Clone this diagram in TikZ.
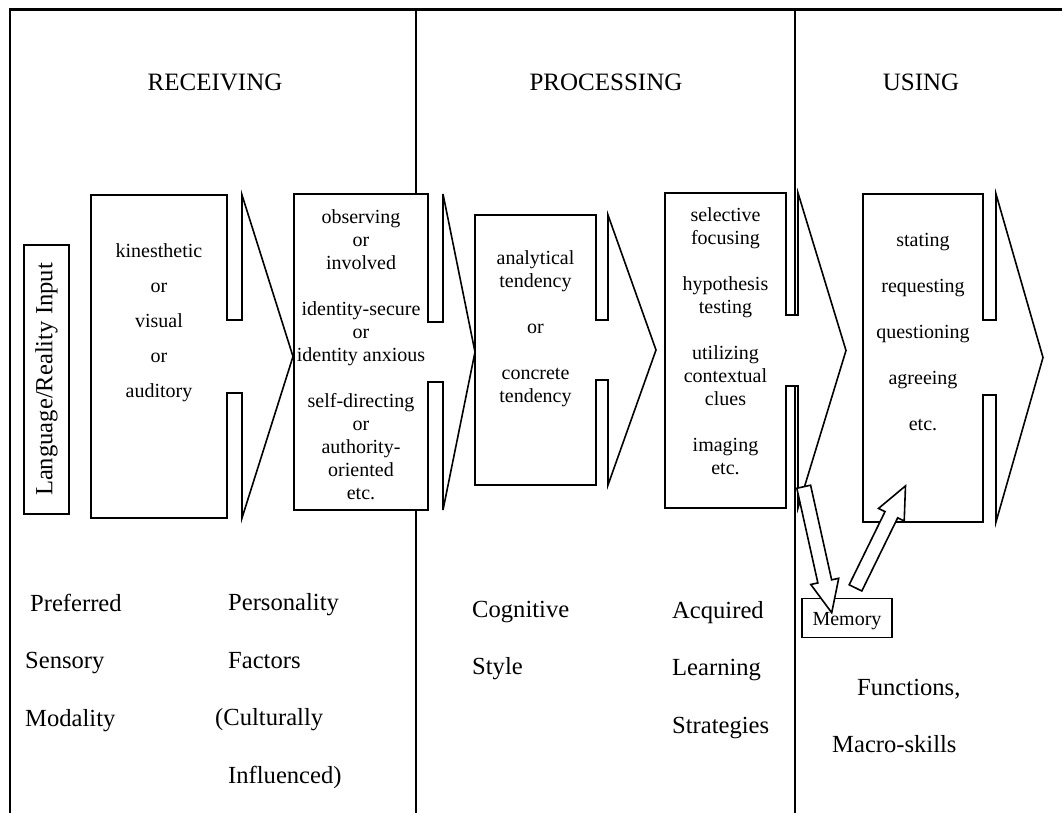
\documentclass[tikz,border=0pt]{standalone}
\usepackage{fontspec}
\setmainfont{Liberation Serif}
\usetikzlibrary{positioning,calc,shapes.arrows}
\tikzset{
  frameline/.style={line width=2.6pt},
  callout/.style={draw=black, fill=white, line width=1.6pt},
  boxtext/.style={align=center, inner sep=0pt, font=\fontsize{20}{23}\selectfont},
  heading/.style={anchor=base, inner sep=0pt, font=\fontsize{25}{29}\selectfont},
  factor/.style={align=left, anchor=north west, inner sep=0pt, font=\fontsize{24.6}{57.5}\selectfont},
  inputbox/.style={draw, line width=1.6pt, rotate=90, minimum width=269pt, minimum height=45pt,
                   inner sep=0pt, font=\fontsize{24.6}{28}\selectfont},
  membox/.style={draw, fill=white, line width=1.6pt, minimum width=90pt, minimum height=39pt,
                 inner sep=0pt, text height=15pt, text depth=0pt, font=\fontsize{20}{23}\selectfont},
  memarrow/.style={single arrow, draw, fill=white, line width=1.6pt, inner xsep=0pt, inner ysep=6.25pt,
                   single arrow head extend=7.25pt, single arrow tip angle=48},
}
% box with notched arrow: left, top, box right, bottom, neck top, neck bottom, head back, tip x
\newcommand{\calloutbox}[8]{%
  \draw[callout] (#1,#2) -- (#3,#2) -- (#3,#5) -- (#7,#5) -- (#7,#2)
    -- (#8,{(#5+#6)/2}) -- (#7,#4) -- (#7,#6) -- (#3,#6) -- (#3,#4)
    -- (#1,#4) -- cycle;}
\begin{document}
\begin{tikzpicture}[x=1pt, y=-1pt]
\useasboundingbox (0,0) rectangle (1062,813);
% frame and column rules
\draw[frameline] (10,813) -- (10,9.5) -- (1062,9.5);
\draw[frameline] (416,9.5) -- (416,813);
\draw[frameline] (795,9.5) -- (795,813);
% column headings
\node[heading] (recv) at (215,91) {RECEIVING};
\node[heading] (proc) at (606,91) {PROCESSING};
\node[heading] (using) at (921,91) {USING};
% input
\node[inputbox] (input) at (46.5,379.5) {Language/Reality Input};
% the five stages
\calloutbox{91}{195}{227}{518}{320}{393}{242}{293}
\calloutbox{294}{194}{428}{510}{322}{382}{443}{475}
\calloutbox{475}{215}{596}{485}{320}{380}{608}{656}
\calloutbox{665}{193}{786}{508}{315}{386}{798}{846}
\calloutbox{863}{194}{983}{522}{320}{395}{996}{1043}
\node[boxtext, font=\fontsize{20}{35}\selectfont] (modal) at (159,323) {kinesthetic\\or\\visual\\or\\auditory};
\node[boxtext] (person) at (361,355) {observing\\or\\involved\\[23pt]identity-secure\\or\\identity anxious\\[23pt]self-directing\\or\\authority-\\oriented\\etc.};
\node[boxtext] (cognit) at (535.5,329) {analytical\\tendency\\[23pt]or\\[23pt]concrete\\tendency};
\node[boxtext] (strat) at (725.5,341) {selective\\focusing\\[23pt]hypothesis\\testing\\[23pt]utilizing\\contextual\\clues\\[23pt]imaging\\etc.};
\node[boxtext] (funct) at (923,332) {stating\\[23pt]requesting\\[23pt]questioning\\[23pt]agreeing\\[23pt]etc.};
% memory
\node[membox] (memory) at (847,618) {Memory};
\coordinate (memin) at (802,479);
\coordinate (memtip) at (830,605);
\coordinate (memout) at (852,595);
\coordinate (usetip) at (902,493);
\foreach \a/\b in {memin/memtip, memout/usetip}
  \path let \p1=($(\b)-(\a)$), \n1={veclen(\x1,\y1)} in
    node[memarrow, minimum height=\n1, rotate={atan2(\y1,\x1)}] at ($(\a)!0.5!(\b)$) {};
% labels under the columns
\node[factor] (sensory) at (25,593.6) {\hspace*{5pt}Preferred\\Sensory\\Modality};
\node[factor] (personality) at (215,593.6) {\hspace*{13pt}Personality\\\hspace*{13pt}Factors\\(Culturally\\\hspace*{13pt}Influenced)};
\node[factor] (style) at (472,601) {Cognitive\\Style};
\node[factor] (learning) at (672,601) {Acquired\\Learning\\Strategies};
\node[factor] (skills) at (832,679) {\hspace*{25pt}Functions,\\Macro-skills};
\end{tikzpicture}
\end{document}
